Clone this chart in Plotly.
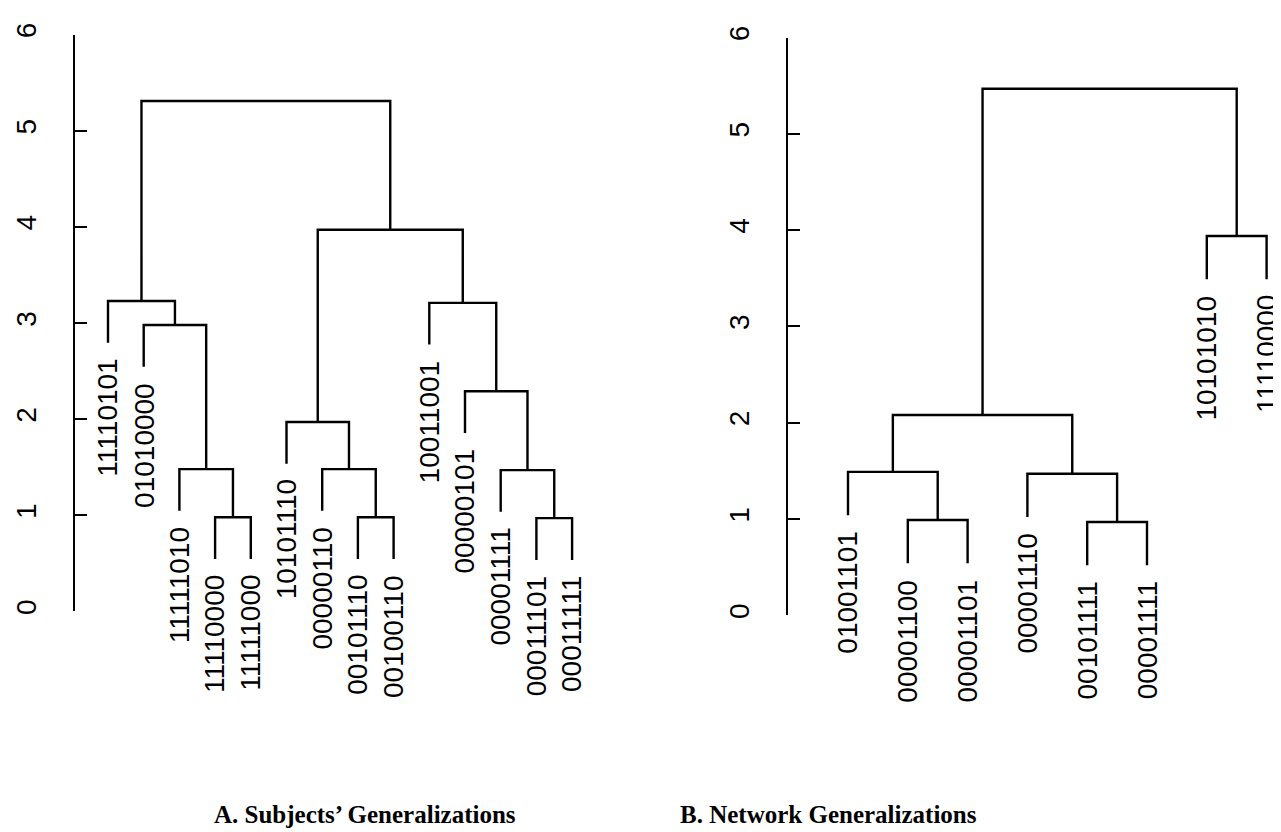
import plotly.graph_objects as go

# ---------------- data ----------------
# Panel A: leaf labels in display order
labels_A = ["11110101", "01010000", "11111010", "11110000", "11111000",
            "10101110", "00000110", "00101110", "00100110",
            "10011001", "00000101", "00001111", "00011101", "00011111"]
# merges (R hclust style: negative = leaf number, positive = earlier merge row)
merge_A = [(-4, -5), (-3, 1), (-2, 2), (-1, 3),
           (-8, -9), (-7, 5), (-6, 6),
           (-13, -14), (-12, 8), (-11, 9), (-10, 10),
           (7, 11), (4, 12)]
heights_A = [0.98, 1.48, 2.98, 3.23,
             0.98, 1.48, 1.97,
             0.97, 1.47, 2.29, 3.21,
             3.97, 5.31]

# Panel B
labels_B = ["01001101", "00001100", "00001101", "00001110",
            "00101111", "00001111", "10101010", "11110000"]
merge_B = [(-2, -3), (-1, 1), (-5, -6), (-4, 3), (2, 4), (-7, -8), (5, 6)]
heights_B = [0.99, 1.49, 0.97, 1.47, 2.08, 3.94, 5.47]

y_ticks = [0, 1, 2, 3, 4, 5, 6]
title_A = "A. Subjects\u2019 Generalizations"
title_B = "B. Network Generalizations"

HANG = 0.1
W, H = 1281, 832


def dendro(merges, heights):
    """Return segment coordinates and leaf bottoms, R plot.hclust style."""
    hang = HANG * (max(heights) - min(heights))
    node_x = {}
    xs, ys = [], []
    leaf_bottom = {}
    for k, (a, b) in enumerate(merges, start=1):
        h = heights[k - 1]
        pts = []
        for c in (a, b):
            if c < 0:
                cx = -c
                cy = h - hang
                leaf_bottom[-c] = cy
            else:
                cx = node_x[c]
                cy = heights[c - 1]
            pts.append((cx, cy))
        (x1, y1), (x2, y2) = pts
        xs += [x1, x1, x2, x2, None]
        ys += [y1, h, h, y2, None]
        node_x[k] = (x1 + x2) / 2
    return xs, ys, leaf_bottom


fig = go.Figure()

num_font = dict(family="Liberation Sans, Arial, sans-serif", size=28, color="black")

panels = [
    dict(labels=labels_A, merges=merge_A, heights=heights_A, xa="x", ya="y",
         axis_px=67, right_px=600, first_px=100, step_px=35.7, y0_px=603, y6_px=15),
    dict(labels=labels_B, merges=merge_B, heights=heights_B, xa="x2", ya="y2",
         axis_px=780, right_px=1281, first_px=840, step_px=59.8, y0_px=607, y6_px=18),
]

annotations = []
for i, p in enumerate(panels):
    xs, ys, lb = dendro(p["merges"], p["heights"])
    fig.add_trace(go.Scatter(x=xs, y=ys, mode="lines",
                             line=dict(color="black", width=2.4),
                             xaxis=p["xa"], yaxis=p["ya"], hoverinfo="skip",
                             showlegend=False))
    for j, lab in enumerate(p["labels"], start=1):
        annotations.append(dict(x=j, y=lb[j], xref=p["xa"], yref=p["ya"],
                                text=lab, showarrow=False, textangle=-90,
                                xanchor="center", yanchor="top", yshift=-14,
                                font=num_font))
    r0 = 1 - (p["first_px"] - p["axis_px"]) / p["step_px"]
    r1 = r0 + (p["right_px"] - p["axis_px"]) / p["step_px"]
    xd = [p["axis_px"] / W, p["right_px"] / W]
    yd = [(H - p["y0_px"]) / H, (H - p["y6_px"]) / H]
    suffix = "" if i == 0 else "2"
    fig.update_layout(**{
        "xaxis" + suffix: dict(domain=xd, range=[r0, r1], visible=False,
                               anchor="y" + suffix),
        "yaxis" + suffix: dict(domain=yd, range=[0, 6], anchor="x" + suffix,
                               showline=True, linecolor="black", linewidth=2.2,
                               ticks="inside", ticklen=12, tickwidth=2.2,
                               tickcolor="black", tickvals=y_ticks,
                               ticktext=[str(t) for t in y_ticks],
                               tickangle=-90, tickfont=num_font,
                               ticklabelstandoff=26,
                               showgrid=False, zeroline=False),
    })

title_font = dict(family="Liberation Serif, Times New Roman, serif", size=25,
                  color="black", weight="bold")
annotations.append(dict(x=357 / W, y=(H - 810) / H, xref="paper", yref="paper",
                        text=title_A, showarrow=False, xanchor="center",
                        yanchor="middle", font=title_font))
annotations.append(dict(x=820 / W, y=(H - 810) / H, xref="paper", yref="paper",
                        text=title_B, showarrow=False, xanchor="center",
                        yanchor="middle", font=title_font))

fig.update_layout(width=W, height=H, margin=dict(l=0, r=0, t=0, b=0),
                  paper_bgcolor="white", plot_bgcolor="white",
                  annotations=annotations)

fig.write_html("out.html")
